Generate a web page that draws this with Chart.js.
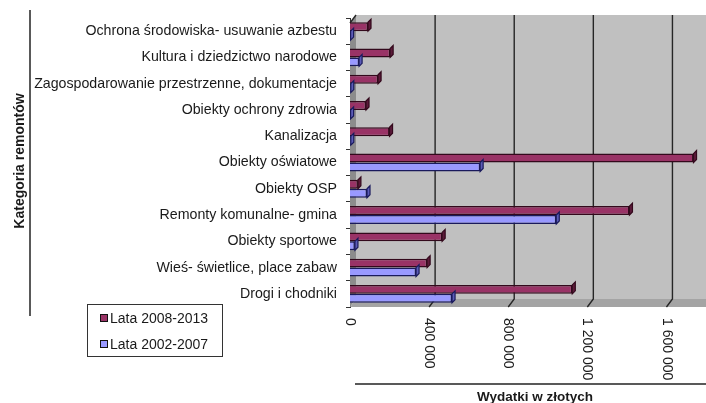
<!DOCTYPE html>
<html>
<head>
<meta charset="utf-8">
<script src="https://cdn.jsdelivr.net/npm/chart.js@4"></script>
<style>
  html, body { margin: 0; padding: 0; background: #fff; }
  #wrap { width: 706px; height: 403px; }
</style>
</head>
<body>
<div id="wrap"><canvas id="chart" width="706" height="403"></canvas></div>
<script>
// Dane
const categories = [
    'Ochrona środowiska- usuwanie azbestu',
    'Kultura i dziedzictwo narodowe',
    'Zagospodarowanie przestrzenne, dokumentacje',
    'Obiekty ochrony zdrowia',
    'Kanalizacja',
    'Obiekty oświatowe',
    'Obiekty OSP',
    'Remonty komunalne- gmina',
    'Obiekty sportowe',
    'Wieś- świetlice, place zabaw',
    'Drogi i chodniki'
];
const lata2008 = [91000, 203000, 142000, 81000, 200000, 1737000, 40000, 1413000, 466000, 390000, 1124000];
const lata2002 = [3000, 46000, 4000, 3000, 4000, 658000, 86000, 1043000, 25000, 334000, 516000];
const xTicks   = [0, 400000, 800000, 1200000, 1600000];
const xMax     = 1800000;

const FONT = '"Liberation Sans", Arial, sans-serif';

function fmt(v) {
    return String(v).replace(/\B(?=(\d{3})+(?!\d))/g, ' ');
}

// Tło, ściany i kratka w stylu Excel 3D + opisy
const excel3d = {
    id: 'excel3d',
    beforeDatasetsDraw(chart) {
        const { ctx, chartArea: a, scales: { x } } = chart;
        const dx = 6, dy = 8;
        const backTop = a.top - 3;
        const backBot = a.bottom - dy;
        ctx.save();
        // tylna ściana
        ctx.fillStyle = '#c0c0c0';
        ctx.fillRect(a.left + dx, backTop, a.right - a.left - dx, backBot - backTop);
        // lewa ściana
        ctx.fillStyle = '#8c8c8c';
        ctx.beginPath();
        ctx.moveTo(a.left, backTop + dy);
        ctx.lineTo(a.left + dx, backTop);
        ctx.lineTo(a.left + dx, backBot);
        ctx.lineTo(a.left, a.bottom);
        ctx.closePath();
        ctx.fill();
        // podłoga
        ctx.fillStyle = '#a4a4a4';
        ctx.beginPath();
        ctx.moveTo(a.left, a.bottom);
        ctx.lineTo(a.left + dx, backBot);
        ctx.lineTo(a.right, backBot);
        ctx.lineTo(a.right, a.bottom);
        ctx.closePath();
        ctx.fill();
        // linie siatki
        ctx.strokeStyle = '#262626';
        ctx.lineWidth = 1.4;
        xTicks.forEach(v => {
            const px = x.getPixelForValue(v);
            ctx.beginPath();
            if (v === 0) {
                ctx.moveTo(px + dx, backTop);
                ctx.lineTo(px, backTop + dy);
            } else {
                ctx.moveTo(px + dx, backTop);
                ctx.lineTo(px + dx, backBot);
                ctx.lineTo(px, a.bottom);
            }
            ctx.stroke();
        });
        ctx.restore();
    },
    afterDatasetsDraw(chart) {
        const { ctx } = chart;
        const d = 3;
        ctx.save();
        chart.data.datasets.forEach((ds, i) => {
            chart.getDatasetMeta(i).data.forEach(bar => {
                const top = bar.y - bar.height / 2;
                const bot = bar.y + bar.height / 2;
                ctx.fillStyle = ds.sideColor;
                ctx.strokeStyle = ds.borderColor;
                ctx.lineWidth = 1.2;
                ctx.beginPath();
                ctx.moveTo(bar.x, top);
                ctx.lineTo(bar.x + d, top - d);
                ctx.lineTo(bar.x + d, bot - d);
                ctx.lineTo(bar.x, bot);
                ctx.closePath();
                ctx.fill();
                ctx.stroke();
            });
        });
        ctx.restore();
    },
    afterDraw(chart) {
        const { ctx, chartArea: a, scales: { x } } = chart;
        ctx.save();
        ctx.fillStyle = '#1a1a1a';
        ctx.strokeStyle = '#222';

        // etykiety osi X (obrócone zgodnie z ruchem wskazówek)
        ctx.font = '14px ' + FONT;
        ctx.textAlign = 'left';
        ctx.textBaseline = 'middle';
        xTicks.forEach(v => {
            const px = x.getPixelForValue(v);
            ctx.save();
            ctx.translate(px, a.bottom + 11);
            ctx.rotate(Math.PI / 2);
            ctx.fillText(fmt(v), 0, 0);
            ctx.restore();
        });

        // tytuł osi X
        ctx.lineWidth = 1.5;
        ctx.beginPath();
        ctx.moveTo(355, 384);
        ctx.lineTo(706, 384);
        ctx.stroke();
        ctx.font = 'bold 13.5px ' + FONT;
        ctx.textAlign = 'center';
        ctx.fillText('Wydatki w złotych', 535, 397);

        // tytuł osi Y
        ctx.beginPath();
        ctx.moveTo(30, 10);
        ctx.lineTo(30, 316);
        ctx.stroke();
        ctx.font = 'bold 14px ' + FONT;
        ctx.save();
        ctx.translate(20, 161);
        ctx.rotate(-Math.PI / 2);
        ctx.fillText('Kategoria remontów', 0, 0);
        ctx.restore();

        // legenda
        ctx.lineWidth = 1;
        ctx.strokeStyle = '#333';
        ctx.strokeRect(87.5, 304.5, 135, 52);
        ctx.font = '14px ' + FONT;
        ctx.textAlign = 'left';
        chart.data.datasets.forEach((ds, i) => {
            const cy = 318 + i * 26;
            ctx.fillStyle = ds.backgroundColor;
            ctx.fillRect(100, cy - 4, 8, 8);
            ctx.strokeStyle = '#111';
            ctx.strokeRect(100.5, cy - 3.5, 7, 7);
            ctx.fillStyle = '#1a1a1a';
            ctx.fillText(ds.label, 110, cy + 1);
        });
        ctx.restore();
    }
};

new Chart(document.getElementById('chart'), {
    type: 'bar',
    data: {
        labels: categories,
        datasets: [
            {
                label: 'Lata 2008-2013',
                data: lata2008,
                backgroundColor: '#993366',
                borderColor: '#33091c',
                sideColor: '#5c1a3a',
                borderWidth: 1.5
            },
            {
                label: 'Lata 2002-2007',
                data: lata2002,
                backgroundColor: '#9999ff',
                borderColor: '#1a1a5c',
                sideColor: '#5c5cb8',
                borderWidth: 1.5
            }
        ]
    },
    options: {
        indexAxis: 'y',
        responsive: false,
        animation: false,
        layout: { padding: { top: 18, right: 0, left: 0, bottom: 0 } },
        categoryPercentage: 0.68,
        barPercentage: 1.0,
        plugins: {
            legend: { display: false },
            tooltip: { enabled: false }
        },
        scales: {
            x: {
                min: 0,
                max: xMax,
                ticks: { display: false, stepSize: 400000 },
                grid: { display: false },
                border: { display: false },
                afterFit: s => { s.height = 96; }
            },
            y: {
                ticks: {
                    color: '#1a1a1a',
                    font: { family: FONT, size: 14.2 },
                    padding: 9
                },
                grid: { drawOnChartArea: false, tickLength: 4, color: '#333' },
                border: { display: true, color: '#333', width: 1 },
                afterFit: s => { s.width = 350; }
            }
        }
    },
    plugins: [excel3d]
});
</script>
</body>
</html>
